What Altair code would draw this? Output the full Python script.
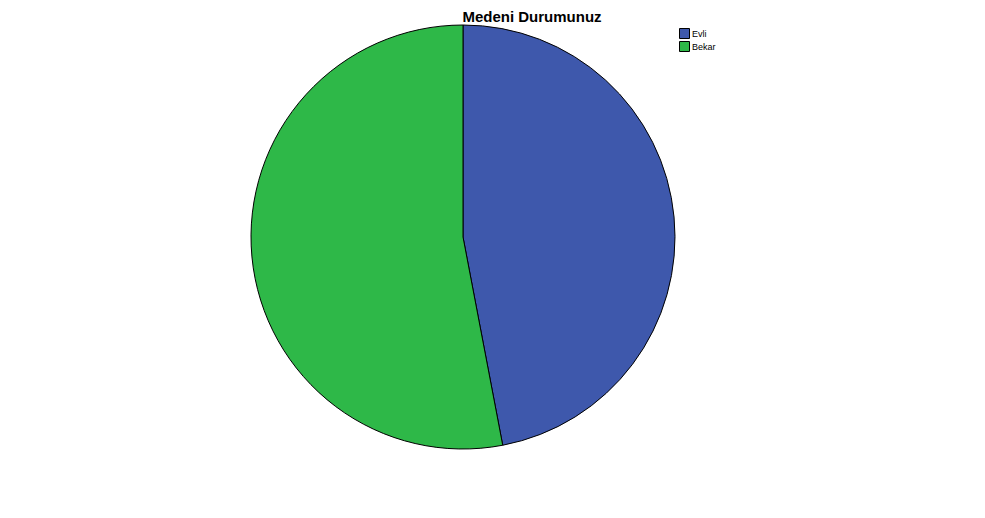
import altair as alt
import pandas as pd

categories = ["Evli", "Bekar"]
values = [47, 53]
colors = ["#3E58AC", "#2EB848"]
title_text = "Medeni Durumunuz"

df = pd.DataFrame({"cat": categories, "val": values, "idx": list(range(len(categories)))})

pie = alt.Chart(df).mark_arc(radius=212, stroke="#000000", strokeWidth=1).encode(
    theta=alt.Theta("val:Q", stack=True),
    order=alt.Order("idx:O"),
    color=alt.Color(
        "cat:N",
        scale=alt.Scale(domain=categories, range=colors),
        sort=categories,
        legend=alt.Legend(
            title=None,
            orient="none",
            legendX=671,
            legendY=20,
            symbolType="square",
            symbolSize=100,
            symbolStrokeColor="#000000",
            symbolStrokeWidth=1,
            symbolOpacity=1,
            labelFontSize=9,
            labelFont="Liberation Sans",
            labelColor="#000000",
            rowPadding=-6,
            labelOffset=2,
        ),
    ),
    x=alt.value(455),
    y=alt.value(229),
)

title = alt.Chart(pd.DataFrame({"t": [title_text]})).mark_text(
    font="Liberation Sans", fontSize=15, fontWeight="bold", color="#000000",
    align="center", baseline="middle"
).encode(text="t:N", x=alt.value(524), y=alt.value(8.5))

chart = alt.layer(pie, title).properties(
    width=969, height=502, autosize=alt.AutoSizeParams(type="none"), padding=0,
    background="#ffffff"
).configure_view(stroke=None, strokeWidth=0)

chart.save("out.html", embed_options={"renderer": "svg", "actions": False})
